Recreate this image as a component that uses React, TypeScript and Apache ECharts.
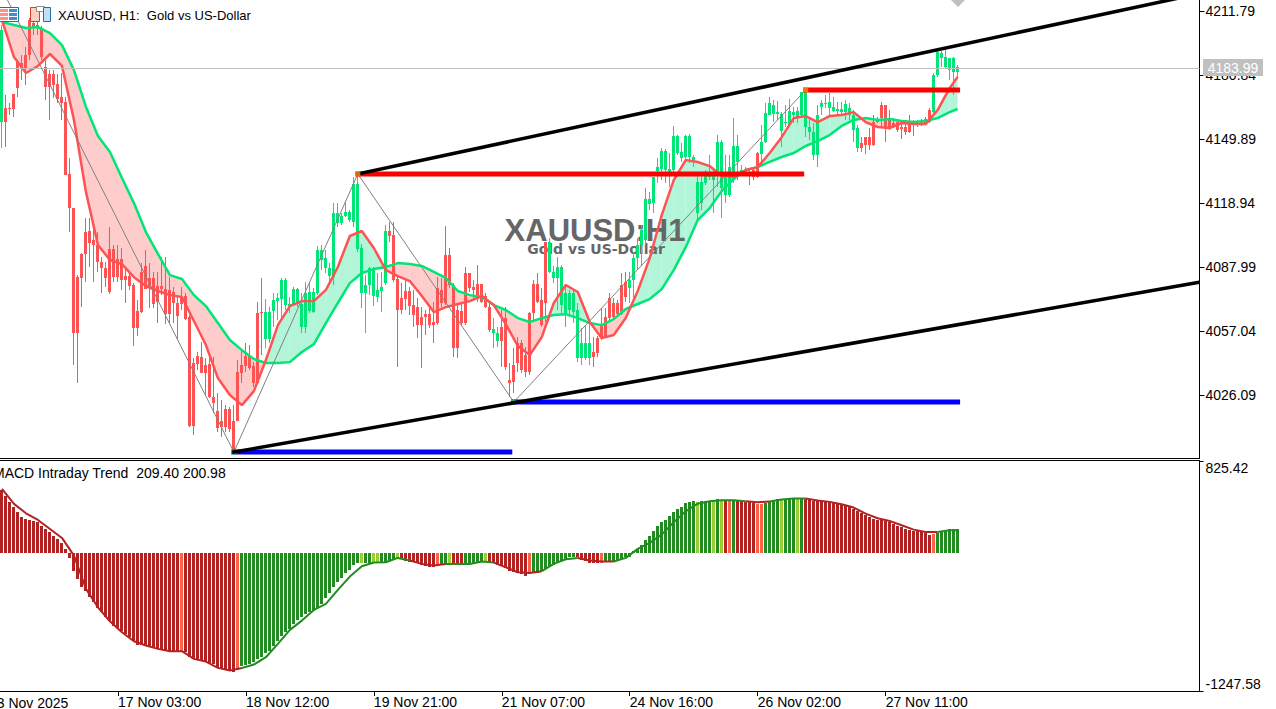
import React, { useEffect, useRef } from "react";
import * as echarts from "echarts";

const barCount = 300;
const categories = Array.from({ length: barCount }, (_, i) => String(i));

const bodyTop = [
4202.6,4164.9,4164.9,4171.6,4187.1,4186.6,4190.5,4207.4,4206.0,4205.0,
4203.6,4184.7,4181.3,4181.3,4176.5,4170.2,4167.8,4133.0,4116.5,4083.1,
4094.3,4104.9,4105.4,4101.0,4098.6,4090.4,4087.5,4096.7,4096.7,4091.9,
4091.9,4083.6,4083.6,4079.3,4066.7,4085.6,4088.5,4082.7,4082.7,4078.8,
4078.8,4077.4,4076.9,4075.9,4070.6,4073.9,4073.9,4063.8,4041.5,4044.9,
4044.4,4040.6,4041.1,4025.1,4018.3,4013.5,4019.3,4019.3,4013.5,4037.2,
4040.6,4044.9,4044.9,4040.1,4065.7,4066.2,4066.2,4066.2,4072.0,4073.0,
4081.7,4081.7,4070.1,4077.4,4077.4,4070.1,4075.4,4075.9,4075.9,4096.2,
4096.2,4092.3,4087.5,4114.1,4114.1,4112.6,4114.6,4114.6,4128.1,4128.1,
4097.2,4079.3,4087.5,4087.5,4076.9,4078.3,4105.4,4105.4,4103.5,4082.2,
4073.0,4076.4,4076.4,4069.6,4068.6,4063.8,4065.2,4065.2,4061.4,4077.9,
4076.9,4093.8,4093.8,4079.3,4067.2,4066.7,4085.1,4085.1,4078.3,4079.8,
4079.8,4073.9,4068.6,4058.0,4056.0,4059.0,4063.3,4033.3,4040.6,4051.2,
4051.2,4045.4,4065.7,4079.8,4079.8,4072.0,4100.1,4100.1,4085.6,4088.0,
4088.0,4075.4,4075.4,4075.4,4067.2,4051.2,4051.2,4051.2,4046.9,4053.6,
4059.4,4063.8,4073.0,4070.6,4070.6,4079.3,4080.7,4081.7,4092.3,4098.6,
4105.9,4120.9,4120.9,4131.5,4136.3,4144.1,4144.1,4135.4,4151.3,4151.3,
4143.6,4151.3,4151.3,4141.2,4129.1,4129.1,4132.5,4133.9,4133.4,4148.4,
4148.4,4131.0,4136.3,4146.5,4146.5,4134.9,4134.9,4133.9,4134.9,4143.1,
4148.4,4162.5,4167.3,4166.3,4163.0,4162.0,4158.1,4163.4,4163.0,4163.4,
4172.6,4173.6,4155.7,4153.3,4161.5,4167.3,4167.3,4167.8,4165.4,4164.4,
4164.4,4166.8,4164.9,4161.5,4155.2,4147.9,4150.8,4150.8,4158.1,4159.1,
4166.3,4166.3,4159.6,4157.6,4158.1,4155.7,4155.7,4157.6,4158.1,4157.6,
4158.1,4159.6,4163.9,4180.8,4191.9,4191.5,4189.5,4189.0,4189.0,4184.7,
];

const bodyBottom = [
4158.1,4158.1,4164.4,4164.4,4174.5,4183.7,4184.2,4190.5,4204.0,4203.6,
4189.5,4175.0,4175.0,4176.0,4169.2,4167.3,4132.5,4116.5,4056.0,4056.0,
4082.7,4094.3,4099.6,4098.6,4090.4,4087.5,4082.7,4075.9,4083.1,4083.1,
4081.7,4081.7,4078.8,4058.5,4058.5,4066.2,4077.4,4078.8,4070.1,4071.1,
4077.4,4065.2,4065.2,4070.6,4064.3,4070.1,4062.8,4011.1,4011.1,4041.1,
4036.7,4036.7,4025.1,4022.2,4010.1,4010.6,4010.6,4009.6,3999.5,4013.5,
4036.7,4040.1,4039.2,4031.9,4031.9,4065.7,4053.2,4053.2,4066.7,4071.5,
4072.5,4069.6,4069.1,4070.1,4070.1,4059.0,4059.0,4066.7,4066.2,4075.4,
4091.4,4087.5,4083.6,4083.1,4109.3,4109.3,4112.6,4110.7,4109.7,4096.7,
4075.4,4075.4,4079.3,4074.0,4073.5,4076.4,4080.2,4103.0,4081.7,4067.2,
4067.2,4072.5,4069.1,4064.8,4059.9,4059.9,4063.8,4059.9,4059.9,4060.9,
4070.6,4070.6,4079.3,4048.8,4048.8,4060.9,4060.9,4077.9,4076.9,4072.5,
4071.1,4068.6,4057.5,4056.0,4052.2,4052.2,4039.6,4031.9,4032.4,4041.6,
4038.2,4037.2,4037.2,4065.7,4071.1,4059.9,4070.6,4085.6,4082.7,4082.7,
4069.6,4065.7,4067.2,4066.2,4044.0,4044.0,4044.0,4044.0,4044.5,4046.4,
4053.6,4054.1,4063.3,4063.8,4065.2,4065.2,4073.5,4077.9,4081.7,4092.3,
4098.6,4101.0,4118.4,4118.9,4134.4,4135.4,4134.9,4133.9,4134.9,4143.1,
4140.7,4141.2,4141.2,4138.8,4114.1,4118.9,4128.6,4131.5,4130.1,4132.5,
4126.2,4122.8,4122.8,4130.1,4138.8,4133.9,4133.9,4133.0,4131.5,4131.5,
4142.6,4148.4,4161.5,4162.0,4162.0,4153.7,4157.6,4156.7,4161.5,4160.5,
4161.5,4155.7,4153.3,4142.1,4142.1,4165.4,4166.8,4164.9,4163.4,4163.4,
4162.9,4162.9,4161.5,4154.2,4145.5,4145.5,4147.0,4147.0,4147.0,4158.1,
4160.0,4155.2,4155.7,4156.2,4154.2,4154.7,4153.3,4153.3,4157.1,4156.7,
4157.6,4157.6,4158.1,4162.9,4180.8,4189.0,4184.7,4183.3,4182.3,4182.3,
];

const wickHigh = [
4205.0,4171.2,4167.3,4171.6,4188.1,4190.5,4194.4,4208.4,4207.4,4207.4,
4204.5,4189.5,4183.3,4183.3,4181.3,4181.8,4170.2,4140.7,4116.5,4084.1,
4094.8,4111.7,4111.7,4105.9,4104.9,4092.8,4090.4,4107.3,4098.6,4098.6,
4097.2,4088.0,4085.6,4080.2,4072.0,4089.9,4096.2,4089.9,4085.6,4085.6,
4092.8,4092.8,4083.1,4078.3,4073.5,4078.3,4075.4,4064.8,4044.0,4046.9,
4051.7,4044.0,4045.4,4044.5,4027.1,4023.7,4021.2,4020.3,4021.2,4043.0,
4047.8,4051.2,4050.3,4042.0,4071.1,4082.7,4072.5,4068.6,4075.4,4075.4,
4082.7,4082.7,4073.5,4078.3,4077.9,4075.4,4080.7,4080.2,4077.9,4098.1,
4098.6,4096.2,4089.9,4118.9,4118.9,4114.1,4119.4,4115.5,4131.5,4132.5,
4099.1,4084.1,4088.0,4088.0,4085.1,4085.6,4108.3,4109.7,4109.7,4083.1,
4080.2,4081.7,4078.3,4076.9,4073.0,4068.6,4067.2,4069.6,4071.1,4083.1,
4082.7,4107.8,4097.2,4080.2,4070.6,4070.6,4088.0,4085.1,4081.7,4088.9,
4079.8,4075.4,4070.6,4063.3,4059.0,4067.2,4068.6,4041.6,4048.8,4054.1,
4052.7,4049.3,4066.2,4081.7,4085.1,4077.9,4100.1,4102.0,4088.5,4092.8,
4089.0,4079.3,4076.9,4076.9,4070.6,4058.5,4059.9,4060.9,4054.1,4054.6,
4068.1,4068.1,4075.4,4073.0,4072.0,4085.1,4085.6,4085.6,4095.2,4102.0,
4108.3,4126.2,4124.3,4131.5,4140.7,4145.5,4145.0,4143.1,4156.2,4151.8,
4148.0,4151.8,4152.3,4142.1,4133.9,4133.9,4134.9,4142.1,4134.9,4151.8,
4149.4,4142.1,4142.1,4160.0,4151.8,4137.3,4136.3,4135.4,4135.9,4143.6,
4156.7,4167.3,4170.2,4168.7,4168.2,4163.0,4166.3,4169.2,4165.4,4165.4,
4172.6,4174.5,4160.0,4157.6,4166.3,4168.7,4171.2,4172.1,4170.2,4167.8,
4167.8,4168.7,4167.3,4163.9,4156.7,4150.8,4150.8,4155.2,4161.5,4160.5,
4167.8,4166.3,4163.9,4160.0,4159.1,4157.6,4159.1,4161.5,4159.1,4159.1,
4159.6,4160.5,4164.9,4181.8,4192.9,4192.4,4192.9,4189.0,4189.5,4185.7,
];

const wickLow = [
4145.5,4146.0,4161.5,4160.5,4170.2,4178.4,4176.0,4188.1,4200.2,4200.2,
4188.1,4168.7,4159.1,4169.7,4167.3,4159.1,4132.5,4104.9,4040.6,4031.9,
4068.6,4080.7,4088.0,4080.7,4085.6,4075.4,4078.3,4074.9,4080.7,4080.7,
4076.9,4070.6,4076.9,4049.8,4054.6,4065.7,4077.4,4068.1,4068.1,4060.9,
4074.4,4060.4,4060.9,4060.9,4052.7,4067.2,4062.3,4010.6,4006.7,4038.2,
4036.7,4026.1,4024.6,4017.4,4008.2,4005.8,4008.2,4008.2,3998.5,4013.5,
4031.9,4037.2,4038.2,4030.0,4031.9,4045.4,4048.8,4051.2,4059.0,4062.3,
4063.3,4067.2,4065.7,4069.6,4068.6,4056.0,4056.0,4065.7,4065.7,4074.4,
4086.5,4085.1,4080.7,4079.3,4107.3,4108.3,4112.1,4109.7,4107.3,4095.2,
4068.1,4056.0,4074.4,4069.1,4071.1,4066.2,4079.3,4100.1,4080.7,4039.6,
4065.2,4067.2,4064.8,4059.0,4053.6,4039.2,4055.1,4058.5,4051.2,4059.9,
4068.6,4069.6,4077.9,4044.5,4044.0,4059.9,4059.9,4075.9,4073.0,4071.1,
4070.6,4068.1,4056.5,4048.8,4049.3,4039.6,4038.2,4025.1,4027.0,4037.2,
4036.7,4034.8,4035.8,4062.3,4070.6,4059.0,4061.4,4085.1,4080.2,4067.2,
4064.8,4059.0,4063.8,4060.9,4042.0,4040.6,4043.0,4040.6,4039.6,4044.5,
4052.7,4054.1,4062.3,4062.3,4063.8,4064.8,4071.1,4070.6,4073.0,4086.5,
4088.9,4098.6,4115.5,4114.1,4128.6,4130.1,4128.6,4126.7,4133.9,4142.1,
4138.8,4138.3,4138.3,4136.3,4109.3,4115.5,4127.6,4130.1,4114.1,4126.7,
4111.7,4118.9,4121.8,4128.6,4130.1,4133.4,4133.0,4127.6,4130.1,4131.0,
4137.8,4148.0,4161.5,4158.1,4159.1,4146.0,4155.7,4155.7,4157.6,4157.6,
4160.0,4150.8,4149.4,4139.7,4136.3,4161.5,4164.9,4161.5,4163.0,4161.5,
4161.5,4159.1,4159.1,4148.4,4143.6,4143.6,4142.6,4144.6,4146.5,4157.6,
4155.7,4148.4,4154.2,4155.2,4153.3,4149.9,4151.8,4152.8,4151.3,4155.7,
4156.2,4157.6,4157.6,4162.5,4179.9,4184.7,4184.2,4178.4,4171.2,4179.4,
];

// Bars drawn in the green candle colour, as [first, last] index pairs.
const greenCandleRanges = [[0, 0], [66, 96], [123, 124], [137, 147], [157, 186], [190, 214], [233, 239]];

// Moving averages read at every third bar (the last one at the final bar).
const maIndex = [
0,3,6,9,12,15,18,21,24,27,30,33,36,39,42,45,48,51,54,57,
60,63,66,69,72,75,78,81,84,87,90,93,96,99,102,105,108,111,114,117,
120,123,126,129,132,135,138,141,144,147,150,153,156,159,162,165,168,171,174,177,
180,183,186,189,192,195,198,201,204,207,210,213,216,219,222,225,228,231,234,237,239,
];
const slowMa = [
4206.5,4205.0,4203.6,4204.0,4201.1,4195.3,4183.2,4165.4,4151.3,4143.6,
4131.0,4118.9,4104.9,4094.3,4084.1,4082.2,4074.4,4069.1,4060.9,4052.7,
4047.8,4043.5,4041.6,4041.6,4042.0,4046.9,4050.7,4060.9,4070.6,4080.2,
4085.1,4087.0,4088.0,4089.9,4089.4,4088.5,4085.6,4082.7,4076.4,4074.4,
4073.5,4069.6,4067.2,4063.3,4061.4,4063.3,4064.8,4065.2,4063.3,4060.9,
4059.9,4062.8,4067.7,4070.1,4072.5,4077.3,4086.5,4097.6,4110.7,4116.5,
4124.7,4130.5,4134.9,4136.3,4138.8,4141.2,4143.1,4146.5,4148.9,4151.8,
4156.2,4159.1,4160.0,4159.1,4159.6,4158.6,4158.1,4158.6,4160.0,4162.9,4164.4,
];
const fastMa = [
4207.4,4189.5,4181.8,4185.2,4191.0,4185.2,4159.1,4124.3,4098.6,4091.4,
4089.4,4083.1,4078.8,4076.4,4074.4,4073.5,4061.9,4050.3,4034.3,4026.1,
4021.2,4028.0,4043.0,4059.9,4069.1,4071.5,4071.5,4076.9,4088.0,4103.0,
4105.4,4097.2,4086.5,4083.6,4081.2,4074.0,4066.2,4068.6,4070.1,4071.5,
4074.0,4069.6,4060.4,4049.8,4045.4,4054.1,4070.6,4079.3,4075.9,4061.4,
4053.6,4055.1,4063.3,4076.4,4092.3,4113.1,4130.0,4139.7,4138.8,4136.8,
4132.0,4131.5,4134.9,4136.3,4143.1,4150.8,4160.0,4161.0,4158.1,4161.0,
4161.5,4162.9,4158.1,4155.7,4155.2,4157.6,4157.1,4157.1,4163.9,4174.5,4179.9,
];

// Zigzag, channel and level objects, as [bar, price].
const zigzag = [[0, 4222.4], [58, 3998.5], [89, 4133.0], [128, 4022.7], [201, 4173.6]];
const channelUpper = [[89, 4133.0], [299, 4220.0]];
const channelLower = [[58, 3998.5], [299, 4080.5]];
const redLevels = [[[89, 4133.0], [200, 4133.0]], [[201, 4173.6], [239, 4173.6]]];
const blueLevels = [[[58, 3998.5], [127, 3998.5]], [[128, 4022.7], [239, 4022.7]]];
const swingHighs = [[89, 4133.0], [201, 4173.6]];
const swingLows = [[58, 3998.5], [128, 4022.7]];
const lastPrice = 4183.99;

const priceTicks = [4211.79, 4180.84, 4149.89, 4118.94, 4087.99, 4057.04, 4026.09];
const priceMax = 4217.11;
const priceMin = 3995.64;
const macdMax = 825.42;
const macdMin = -1247.58;

const dateLabels: Record<number, string> = {
  29: "17 Nov 03:00", 61: "18 Nov 12:00", 93: "19 Nov 21:00", 125: "21 Nov 07:00",
  157: "24 Nov 16:00", 189: "26 Nov 02:00", 221: "27 Nov 11:00",
};

const histogram = [
565,514,454,409,363,324,303,294,288,273,
243,213,183,153,123,87,33,-48,-162,-240,
-306,-348,-403,-448,-499,-538,-577,-619,-658,-682,
-709,-733,-757,-799,-829,-829,-838,-853,-862,-868,
-868,-883,-889,-895,-895,-895,-895,-943,-958,-967,
-973,-982,-994,-1003,-1039,-1048,-1057,-1069,-1078,-1057,
-1018,-1009,-1003,-988,-958,-943,-907,-883,-838,-793,
-748,-718,-688,-643,-607,-577,-553,-538,-523,-499,
-459,-405,-360,-306,-261,-228,-180,-153,-108,-93,
-93,-93,-93,-93,-81,-81,-81,-72,-57,-48,
-57,-72,-81,-87,-96,-108,-117,-126,-126,-108,
-108,-108,-96,-108,-114,-114,-108,-102,-102,-93,
-87,-78,-87,-96,-108,-114,-141,-168,-177,-186,
-195,-207,-192,-180,-180,-168,-147,-126,-108,-93,
-72,-57,-42,-36,-42,-66,-78,-90,-96,-96,
-96,-87,-84,-81,-72,-60,-36,-36,12,33,
72,117,147,192,237,273,297,333,369,397,
415,448,460,469,460,466,469,469,460,487,
466,466,466,466,466,466,460,460,451,442,
442,451,463,475,484,478,484,484,484,493,
484,484,478,466,466,466,466,457,448,445,
439,433,418,394,373,354,336,318,303,291,
294,282,276,255,243,228,216,207,198,192,
183,177,162,171,177,192,201,213,213,209.4,
];
const signalLine = [
574,439,354,294,213,132,-27,-327,-493,-619,
-718,-799,-838,-868,-889,-889,-958,-982,-1039,-1063,
-1040,-1009,-943,-823,-697,-613,-517,-463,-336,-216,
-123,-90,-87,-48,-72,-102,-117,-102,-102,-102,
-81,-90,-132,-177,-183,-168,-102,-60,-48,-72,
-81,-81,-48,33,87,162,273,372,441,463,
472,472,463,454,460,478,487,487,469,457,
436,406,351,309,285,246,207,186,186,201,200.98,
];
const greenHistRanges = [[60, 99], [110, 112], [116, 121], [133, 143], [151, 180], [183, 183], [191, 200], [234, 239]];
const limeHistBars = [90, 93, 94, 99, 112, 121, 174, 178, 180, 195, 199];
const tomatoHistBars = [45, 59, 109, 132, 150, 182, 189, 190, 233];

const UP = "#00E676";
const DOWN = "#FF5252";
const FIREBRICK = "#B22222";
const FOREST = "#228B22";
const LIME = "#9ACD32";
const TOMATO = "#FF6347";
const UI_FONT = "Liberation Sans";

const inRanges = (i: number, ranges: number[][]) => ranges.some(([a, b]) => i >= a && i <= b);

const histColor = (i: number) => {
  if (limeHistBars.includes(i)) return LIME;
  if (tomatoHistBars.includes(i)) return TOMATO;
  return inRanges(i, greenHistRanges) ? FOREST : FIREBRICK;
};

const candleData = bodyTop.map((t, i) => [i, t, bodyBottom[i], wickHigh[i], wickLow[i]]);

const renderCandle = (params: any, api: any) => {
  const i = api.value(0);
  const fill = inRanges(i, greenCandleRanges) ? UP : DOWN;
  const top = api.coord([i, api.value(1)]);
  const bottom = api.coord([i, api.value(2)]);
  const high = api.coord([i, api.value(3)]);
  const low = api.coord([i, api.value(4)]);
  const left = Math.floor(top[0] - 1.5);
  const yTop = Math.round(top[1]);
  const yBottom = Math.max(Math.round(bottom[1]), yTop + 1);
  const yHigh = Math.round(high[1]);
  const yLow = Math.round(low[1]);
  return {
    type: "group",
    children: [
      { type: "rect", shape: { x: left + 1, y: yHigh, width: 1, height: Math.max(yLow - yHigh, 1) }, style: { fill }, silent: true },
      { type: "rect", shape: { x: left, y: yTop, width: 3, height: yBottom - yTop }, style: { fill }, silent: true },
    ],
  };
};

const histData = histogram.map((v, i) => [i, v]);

const renderHist = (params: any, api: any) => {
  const i = api.value(0);
  const tip = api.coord([i, api.value(1)]);
  const base = api.coord([i, 0]);
  const yA = Math.round(Math.min(tip[1], base[1]));
  const yB = Math.round(Math.max(tip[1], base[1]));
  return {
    type: "rect",
    shape: { x: Math.floor(tip[0] - 1.5), y: yA, width: 3, height: Math.max(yB - yA, 1) },
    style: { fill: histColor(i) },
    silent: true,
  };
};

const signalPieces = (color: string) =>
  signalLine.map((v, k) => {
    const segIs = (s: number) =>
      s >= 0 && s < signalLine.length - 1 && (histColor(maIndex[s]) === FOREST || histColor(maIndex[s]) === LIME ? FOREST : FIREBRICK) === color;
    return segIs(k) || segIs(k - 1) ? [maIndex[k], v] : [maIndex[k], null];
  });

const bandData = maIndex.slice(0, -1).map((idx, k) => [idx, maIndex[k + 1], slowMa[k], fastMa[k], slowMa[k + 1], fastMa[k + 1]]);

const renderBand = (params: any, api: any) => {
  const [i0, i1, s0, f0, s1, f1] = [0, 1, 2, 3, 4, 5].map((d) => api.value(d));
  const a0 = api.coord([i0, s0]);
  const b0 = api.coord([i0, f0]);
  const a1 = api.coord([i1, s1]);
  const b1 = api.coord([i1, f1]);
  const fill = (above: boolean) => ({ fill: above ? "#FFCCCC" : "#B2F5D8" });
  const d0 = s0 - f0;
  const d1 = s1 - f1;
  const children: any[] = [];
  if (d0 * d1 >= 0) {
    children.push({ type: "polygon", shape: { points: [a0, a1, b1, b0] }, style: fill(d0 + d1 > 0), silent: true });
  } else {
    const t = d0 / (d0 - d1);
    const cross = [a0[0] + (a1[0] - a0[0]) * t, a0[1] + (a1[1] - a0[1]) * t];
    children.push({ type: "polygon", shape: { points: [a0, cross, b0] }, style: fill(d0 > 0), silent: true });
    children.push({ type: "polygon", shape: { points: [cross, a1, b1] }, style: fill(d1 > 0), silent: true });
  }
  return { type: "group", children };
};

const thick = (name: string, data: number[][], color: string, width: number, z: number) => ({
  name,
  type: "line",
  xAxisIndex: 0,
  yAxisIndex: 0,
  data,
  symbol: "none",
  lineStyle: { color, width, cap: "square" },
  silent: true,
  z,
});

const iconBox = (x: number, y: number, width: number, height: number, fill: string, stroke?: string) => ({
  type: "rect",
  z: 20,
  shape: { x, y, width, height },
  style: stroke ? { fill, stroke, lineWidth: 1 } : { fill },
});

export default function App() {
  const ref = useRef<HTMLDivElement>(null);
  useEffect(() => {
    document.body.style.margin = "0";
    const chart = echarts.init(ref.current!, undefined, { renderer: "svg" });
    chart.setOption({
      animation: false,
      backgroundColor: "#fff",
      grid: [
        { left: -0.5, top: 0, width: 1200, height: 458 },
        { left: -0.5, top: 461, width: 1200, height: 230 },
      ],
      xAxis: [
        {
          type: "category",
          data: categories,
          gridIndex: 0,
          boundaryGap: true,
          axisLine: { show: true, onZero: false, lineStyle: { color: "#000", width: 1 } },
          axisTick: { show: false },
          axisLabel: { show: false },
          splitLine: { show: false },
        },
        {
          type: "category",
          data: categories,
          gridIndex: 1,
          boundaryGap: true,
          axisLine: { show: true, onZero: false, lineStyle: { color: "#000", width: 1 } },
          axisTick: {
            show: true,
            length: 5,
            alignWithLabel: true,
            interval: (i: number) => dateLabels[i] !== undefined,
            lineStyle: { color: "#000" },
          },
          axisLabel: {
            show: true,
            interval: (i: number) => dateLabels[i] !== undefined,
            formatter: (_: string, i: number) => dateLabels[i] ?? "",
            align: "left",
            margin: 4,
            color: "#000",
            fontFamily: UI_FONT,
            fontSize: 14,
          },
          splitLine: { show: false },
        },
      ],
      yAxis: [
        {
          type: "value",
          gridIndex: 0,
          position: "right",
          min: priceMin,
          max: priceMax,
          axisLine: { show: true, lineStyle: { color: "#000" } },
          axisTick: { show: true, length: 5, customValues: priceTicks, lineStyle: { color: "#000" } },
          axisLabel: {
            show: true,
            customValues: priceTicks,
            formatter: (v: number) => v.toFixed(2),
            margin: 6,
            color: "#000",
            fontFamily: UI_FONT,
            fontSize: 14,
          },
          splitLine: { show: false },
        },
        {
          type: "value",
          gridIndex: 1,
          position: "right",
          min: macdMin,
          max: macdMax,
          axisLine: { show: true, lineStyle: { color: "#000" } },
          axisTick: { show: true, length: 4, customValues: [macdMin, macdMax], lineStyle: { color: "#000" } },
          axisLabel: {
            show: true,
            customValues: [macdMin, macdMax],
            formatter: (v: number) => v.toFixed(2),
            margin: 6,
            verticalAlignMinLabel: "bottom",
            verticalAlignMaxLabel: "top",
            color: "#000",
            fontFamily: UI_FONT,
            fontSize: 14,
          },
          splitLine: { show: false },
        },
      ],
      series: [
        {
          name: "band",
          type: "custom",
          xAxisIndex: 0,
          yAxisIndex: 0,
          data: bandData,
          renderItem: renderBand,
          encode: { x: [0, 1], y: [2, 3, 4, 5] },
          clip: true,
          silent: true,
          z: 1,
          markLine: {
            silent: true,
            symbol: "none",
            label: { show: false },
            lineStyle: { color: "#C0C0C0", width: 1, type: "solid" },
            data: [{ yAxis: lastPrice }],
          },
        },
        {
          name: "XAUUSD",
          type: "custom",
          xAxisIndex: 0,
          yAxisIndex: 0,
          data: candleData,
          renderItem: renderCandle,
          encode: { x: 0, y: [1, 2, 3, 4] },
          clip: true,
          silent: true,
          z: 2,
        },
        {
          name: "Fast MA",
          type: "line",
          xAxisIndex: 0,
          yAxisIndex: 0,
          data: maIndex.map((idx, k) => [idx, fastMa[k]]),
          symbol: "none",
          lineStyle: { color: DOWN, width: 2.5 },
          silent: true,
          z: 4,
        },
        {
          name: "Slow MA",
          type: "line",
          xAxisIndex: 0,
          yAxisIndex: 0,
          data: maIndex.map((idx, k) => [idx, slowMa[k]]),
          symbol: "none",
          lineStyle: { color: UP, width: 2.5 },
          silent: true,
          z: 3,
        },
        thick("Zigzag", zigzag, "#808080", 1, 5),
        thick("Channel upper", channelUpper, "#000", 3.5, 6),
        thick("Channel lower", channelLower, "#000", 3.5, 6),
        ...redLevels.map((d, i) => thick("Resistance " + i, d, "#FF0000", 5, 5)),
        ...blueLevels.map((d, i) => thick("Support " + i, d, "#0000FF", 5, 5)),
        {
          name: "Swing highs",
          type: "scatter",
          xAxisIndex: 0,
          yAxisIndex: 0,
          data: swingHighs,
          symbol: "rect",
          symbolSize: 5,
          itemStyle: { color: "#FF8C00" },
          silent: true,
          z: 7,
        },
        {
          name: "Swing lows",
          type: "scatter",
          xAxisIndex: 0,
          yAxisIndex: 0,
          data: swingLows,
          symbol: "rect",
          symbolSize: 5,
          itemStyle: { color: "#32CD32" },
          silent: true,
          z: 5,
        },
        {
          name: "MACD histogram",
          type: "custom",
          xAxisIndex: 1,
          yAxisIndex: 1,
          data: histData,
          renderItem: renderHist,
          encode: { x: 0, y: 1 },
          silent: true,
          z: 2,
        },
        {
          name: "Signal down",
          type: "line",
          xAxisIndex: 1,
          yAxisIndex: 1,
          data: signalPieces(FIREBRICK),
          connectNulls: false,
          symbol: "none",
          lineStyle: { color: FIREBRICK, width: 2 },
          silent: true,
          z: 3,
        },
        {
          name: "Signal up",
          type: "line",
          xAxisIndex: 1,
          yAxisIndex: 1,
          data: signalPieces(FOREST),
          connectNulls: false,
          symbol: "none",
          lineStyle: { color: FOREST, width: 2 },
          silent: true,
          z: 3,
        },
      ],
      graphic: [
        {
          type: "text",
          z: 1.5,
          x: 595,
          y: 230,
          style: { text: "XAUUSD:H1", font: `bold 31px "${UI_FONT}"`, fill: "#666666", align: "center", verticalAlign: "middle" },
        },
        {
          type: "text",
          z: 1.5,
          x: 596,
          y: 249,
          style: { text: "Gold vs US-Dollar", font: 'bold 14px "DejaVu Sans"', fill: "#666666", align: "center", verticalAlign: "middle" },
        },
        {
          type: "text",
          z: 20,
          x: 58,
          y: 15,
          style: { text: "XAUUSD, H1:  Gold vs US-Dollar", font: `13px "${UI_FONT}"`, fill: "#000", verticalAlign: "middle" },
        },
        {
          type: "text",
          z: 20,
          x: -7,
          y: 473,
          style: { text: "MACD Intraday Trend  209.40 200.98", font: `14px "${UI_FONT}"`, fill: "#000", verticalAlign: "middle" },
        },
        {
          type: "text",
          z: 20,
          x: -11,
          y: 703,
          style: { text: "13 Nov 2025", font: `14px "${UI_FONT}"`, fill: "#000", verticalAlign: "middle" },
        },
        { type: "rect", z: 20, shape: { x: 1203, y: 59, width: 60, height: 17 }, style: { fill: "#C0C0C0" } },
        {
          type: "text",
          z: 21,
          x: 1233,
          y: 68,
          style: { text: lastPrice.toFixed(2), font: `14px "${UI_FONT}"`, fill: "#fff", align: "center", verticalAlign: "middle" },
        },
        { type: "line", z: 20, shape: { x1: 0, y1: 460.5, x2: 1200, y2: 460.5 }, style: { stroke: "#000", lineWidth: 1 } },
        { type: "polygon", z: 20, shape: { points: [[951, 0], [965, 0], [958, 7]] }, style: { fill: "#C0C0C0" } },
        iconBox(-1.5, 7.5, 20, 14, "#FFFFFF", "#1F6FA8"),
        iconBox(0, 9, 8, 3, "#FF9090"),
        iconBox(0, 13, 8, 3, "#FF9090"),
        iconBox(0, 17, 8, 3, "#FF9090"),
        iconBox(9, 9, 8, 3, "#3F8FD0"),
        iconBox(9, 13, 8, 3, "#3F8FD0"),
        iconBox(9, 17, 8, 3, "#3F8FD0"),
        iconBox(30.5, 7.5, 9, 14, "#FFD0C0", "#D04030"),
        iconBox(36.5, 6.5, 8, 5, "#FFFFFF", "#909090"),
        iconBox(43.5, 7.5, 7, 14, "#BFE0F5", "#1F6FA8"),
      ],
    });
    return () => chart.dispose();
  }, []);
  return <div ref={ref} style={{ position: "absolute", left: 0, top: 0, width: 1276, height: 709 }} />;
}
